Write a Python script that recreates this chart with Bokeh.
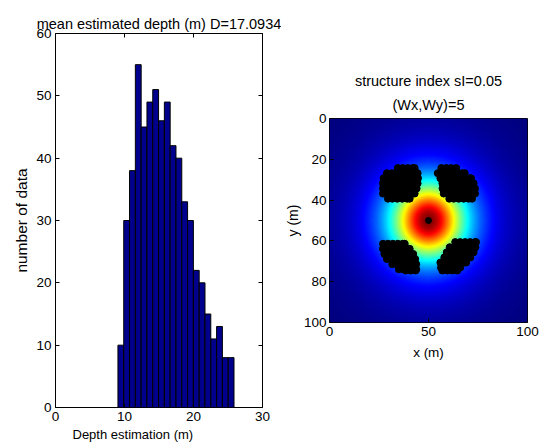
import numpy as np
from bokeh.plotting import figure
from bokeh.layouts import row
from bokeh.models import Range1d, LinearAxis, Title, LinearColorMapper, FixedTicker
from bokeh.embed import file_html
from bokeh.resources import INLINE

# ---------------- data ----------------
# histogram of estimated depths
depth_bin_first_edge = 9.05
depth_bin_width = 0.841
depth_counts = [10, 30, 38, 55, 45, 49, 51, 46, 49, 42, 40, 33, 30, 22, 20, 15, 11, 13, 8, 8]
hist_x_ticks = [0, 10, 20, 30]
hist_y_ticks = [0, 10, 20, 30, 40, 50, 60]

field_center_x = 50.0
field_center_y = 50.0
field_scale = 25.3
field_exponent = 2.0

# Euler solutions (x, y in metres), one list of rows (y, [x...]) per cluster
euler_rows_tl = [
    (24.3, [34.5, 37, 39.5, 42, 43]),
    (26.8, [29, 31.5, 34, 36.5, 39, 41.5, 44, 44.5]),
    (29.3, [27.3, 29.75, 32.25, 34.75, 37.25, 39.75, 42.25, 44.7]),
    (31.8, [27, 29.5, 32, 34.5, 37, 39.5, 42, 44.5]),
    (34.3, [27, 29.25, 31.75, 34.25, 36.75, 39.25, 41.75, 44]),
    (36.8, [27, 29.5, 32, 34.5, 37, 39.5, 42, 43]),
    (39.3, [29.5, 31.75, 34.25, 36.75, 39.25, 40.5]),
]
euler_rows_tr = [
    (24.3, [56.5, 59, 61.5, 64]),
    (26.8, [54.7, 57, 59.5, 62, 64.5, 67, 68.3]),
    (29.3, [56, 58.25, 60.75, 63.25, 65.75, 68.25, 70.75, 71.5]),
    (31.8, [57, 59.5, 62, 64.5, 67, 69.5, 72, 72.8]),
    (34.3, [57.1, 59.25, 61.75, 64.25, 66.75, 69.25, 71.75, 73.5]),
    (36.8, [57.7, 60, 62.5, 65, 67.5, 70, 72.5, 73.5]),
    (39.3, [60.5, 62.75, 65.25, 67.75, 70.25, 72]),
]
euler_rows_bl = [
    (61.4, [27, 29.5, 32, 34.5, 37, 38]),
    (63.9, [27, 29.25, 31.75, 34.25, 36.75, 39.25, 40.5]),
    (66.4, [27.7, 30, 32.5, 35, 37.5, 40, 42.3]),
    (68.9, [29, 31.25, 33.75, 36.25, 38.75, 41.25, 43.3]),
    (71.4, [31.7, 34, 36.5, 39, 41.5, 43.8]),
    (73.9, [35, 37.25, 39.75, 42.25, 43.8]),
    (74.5, [38.5, 41, 43.5]),
]
euler_rows_br = [
    (60.6, [63.5, 66, 68.5, 71, 73.5, 74]),
    (63.1, [60.7, 63, 65.5, 68, 70.5, 73, 73.7]),
    (65.6, [59.2, 61.25, 63.75, 66.25, 68.75, 71.25, 72.8]),
    (68.1, [58, 60, 62.5, 65, 67.5, 70, 71.1]),
    (70.6, [56, 58.25, 60.75, 63.25, 65.75, 68.25, 69]),
    (73.1, [56.3, 58.5, 61, 63.5, 66]),
    (74.5, [57, 59.5, 62, 64.5]),
]
source_x = [50]
source_y = [50]
map_x_ticks = [0, 50, 100]
map_y_ticks = [0, 20, 40, 60, 80, 100]

FONT = "Liberation Sans"
TICK_FS = "13.5px"
TITLE_FS = "14.5px"

# ---------------- histogram ----------------
left_edges = [depth_bin_first_edge + i * depth_bin_width for i in range(len(depth_counts))]
right_edges = [e + depth_bin_width for e in left_edges]

p1 = figure(width=281, height=446, x_range=Range1d(0, 30), y_range=Range1d(0, 60),
            output_backend="svg", toolbar_location=None,
            min_border_left=55, min_border_right=19, min_border_top=33, min_border_bottom=39)
p1.quad(left=left_edges, right=right_edges, bottom=0, top=depth_counts,
        fill_color="#00008C", line_color="black", line_width=1)


def style_axis(ax, ticks, show_labels=True, label_fs="13px"):
    ax.ticker = FixedTicker(ticks=ticks)
    ax.major_tick_in = 4
    ax.major_tick_out = 0
    ax.minor_tick_line_color = None
    ax.axis_line_color = None
    ax.major_tick_line_color = "black"
    ax.major_label_text_font = FONT
    ax.major_label_text_color = "black"
    ax.axis_label_text_font = FONT
    ax.axis_label_text_font_size = label_fs
    ax.axis_label_text_font_style = "normal"
    ax.axis_label_text_color = "black"
    ax.major_label_text_font_size = TICK_FS
    if show_labels:
        ax.major_label_standoff = 4
        ax.axis_label_standoff = 4
    else:
        ax.major_label_overrides = {t: "" for t in ticks}
        ax.major_label_standoff = 0


style_axis(p1.xaxis[0], hist_x_ticks)
style_axis(p1.yaxis[0], hist_y_ticks, label_fs="15.5px")
p1.yaxis.axis_label = "number of data"
p1.yaxis.axis_label_standoff = 3
ax_r = LinearAxis()
style_axis(ax_r, hist_y_ticks, show_labels=False)
p1.add_layout(ax_r, "right")
ax_t = LinearAxis()
style_axis(ax_t, hist_x_ticks, show_labels=False)
p1.add_layout(ax_t, "above")
p1.title = None
p1.add_layout(Title(text="mean estimated depth (m) D=17.0934", align="center",
                    text_font=FONT, text_font_size=TITLE_FS, text_font_style="normal",
                    text_color="black", standoff=4), "above")
p1.add_layout(Title(text="Depth estimation (m)", align="left", offset=17,
                    text_font=FONT, text_font_size="13px", text_font_style="normal",
                    text_color="black", standoff=3), "below")
p1.grid.visible = False
p1.outline_line_color = "black"
p1.frame_align = False

# ---------------- map ----------------
gx = np.linspace(0, 100, 201)
gy = np.linspace(0, 100, 201)
XX, YY = np.meshgrid(gx, gy)
rr2 = ((XX - field_center_x) ** 2 + (YY - field_center_y) ** 2) / field_scale ** 2
field = (1.0 + rr2) ** (-field_exponent)


def jet_palette(n=256):
    pal = []
    for i in range(n):
        v = i / (n - 1)
        r = min(max(1.5 - abs(4 * v - 3), 0), 1)
        g = min(max(1.5 - abs(4 * v - 2), 0), 1)
        b = min(max(1.5 - abs(4 * v - 1), 0), 1)
        pal.append("#%02x%02x%02x" % (int(round(r * 255)), int(round(g * 255)), int(round(b * 255))))
    return pal


mapper = LinearColorMapper(palette=jet_palette(), low=float(field.min()), high=float(field.max()))

p2 = figure(width=260, height=446, x_range=Range1d(0, 100), y_range=Range1d(100, 0),
            output_backend="svg", toolbar_location=None,
            min_border_left=44, min_border_right=14, min_border_top=118, min_border_bottom=124)
p2.image(image=[field], x=0, y=0, dw=100, dh=100, color_mapper=mapper)

ex, ey = [], []
for rows in (euler_rows_tl, euler_rows_tr, euler_rows_bl, euler_rows_br):
    for yv, xs in rows:
        for xv in xs:
            ex.append(xv)
            ey.append(yv)
p2.scatter(ex, ey, size=7, fill_color="black", line_color="black")
p2.scatter(source_x, source_y, size=6, fill_color="black", line_color="black")

style_axis(p2.xaxis[0], map_x_ticks, label_fs="13.5px")
style_axis(p2.yaxis[0], map_y_ticks, label_fs="14px")
p2.xaxis.axis_label = "x (m)"
p2.xaxis.axis_label_standoff = 6
p2.yaxis.axis_label = "y (m)"
p2.yaxis.axis_label_standoff = 0
p2.yaxis.major_label_standoff = 3
p2.title = None
p2.add_layout(Title(text="(Wx,Wy)=5", align="center", text_font=FONT, text_font_size=TITLE_FS,
                    text_font_style="normal", text_color="black", text_line_height=1.0,
                    standoff=12), "above")
p2.add_layout(Title(text="structure index sI=0.05", align="center", text_font=FONT,
                    text_font_size=TITLE_FS, text_font_style="normal", text_color="black",
                    text_line_height=1.0, standoff=0), "above")
p2.grid.visible = False
p2.outline_line_color = "black"
p2.frame_align = False

layout = row(p1, p2)
open("out.html", "w").write(file_html(layout, INLINE))
